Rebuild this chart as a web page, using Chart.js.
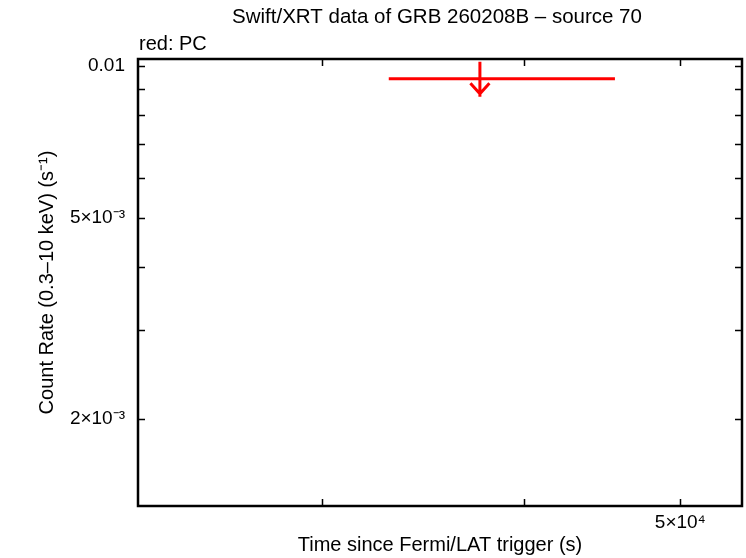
<!DOCTYPE html>
<html>
<head>
<meta charset="utf-8">
<title>Swift/XRT data of GRB 260208B - source 70</title>
<script src="https://cdn.jsdelivr.net/npm/chart.js@4.4.1/dist/chart.umd.min.js"></script>
<style>
  body { margin: 0; background: #fff; }
</style>
</head>
<body>
<canvas id="lc" width="746" height="558"></canvas>
<script>
// PC mode points (only one, an upper limit)
const timeMid = [37570];
const timeLo = [32990];
const timeHi = [45550];
const rate = [0.00943];
const upperLimit = [true];

// axis ranges and ticks
const xRange = [23070, 54600];
const yRange = [0.001345, 0.01032];
const xTicks = [3e4, 4e4, 5e4];
const xTickLabels = ['', '', '5×10⁴'];
const yTicks = [2e-3, 3e-3, 4e-3, 5e-3, 6e-3, 7e-3, 8e-3, 9e-3, 1e-2];
const yTickLabels = ['2×10⁻³', '', '', '5×10⁻³', '', '', '', '', '0.01'];

const FONT = '"Liberation Sans", Arial, Helvetica, sans-serif';

var points = timeMid.map(function (t, i) {
  return { x: t, y: rate[i], xLo: timeLo[i], xHi: timeHi[i], ul: upperLimit[i] };
});

// frame, inward ticks on all four sides, and the title text
var framePlugin = {
  id: 'frame',
  afterDraw: function (chart) {
    var ctx = chart.ctx, a = chart.chartArea;
    var xs = chart.scales.x, ys = chart.scales.y;
    ctx.save();
    ctx.strokeStyle = '#000';
    ctx.lineWidth = 1.5;
    var tl = 7;
    xTicks.forEach(function (v) {
      var px = Math.round(xs.getPixelForValue(v)) + 0.5;
      ctx.beginPath();
      ctx.moveTo(px, a.bottom); ctx.lineTo(px, a.bottom - tl);
      ctx.moveTo(px, a.top); ctx.lineTo(px, a.top + tl);
      ctx.stroke();
    });
    yTicks.forEach(function (v) {
      var py = Math.round(ys.getPixelForValue(v)) + 0.5;
      ctx.beginPath();
      ctx.moveTo(a.left, py); ctx.lineTo(a.left + tl, py);
      ctx.moveTo(a.right, py); ctx.lineTo(a.right - tl, py);
      ctx.stroke();
    });
    ctx.lineWidth = 2.5;
    ctx.strokeRect(a.left, a.top, a.right - a.left, a.bottom - a.top);

    ctx.fillStyle = '#000';
    ctx.font = '20.5px ' + FONT;
    ctx.textAlign = 'center';
    ctx.textBaseline = 'alphabetic';
    ctx.fillText('Swift/XRT data of GRB 260208B \u2013 source 70', 437, 23);
    ctx.font = '20px ' + FONT;
    ctx.textAlign = 'left';
    ctx.fillText('red: PC', 139, 50);
    ctx.restore();
  }
};

// error bars with upper-limit arrows
var errPlugin = {
  id: 'errbars',
  afterDatasetsDraw: function (chart) {
    var ctx = chart.ctx;
    var xs = chart.scales.x, ys = chart.scales.y;
    chart.data.datasets.forEach(function (ds) {
      ctx.save();
      ctx.strokeStyle = ds.borderColor;
      ctx.lineWidth = 3;
      ds.data.forEach(function (p) {
        var x = xs.getPixelForValue(p.x);
        var y = ys.getPixelForValue(p.y);
        var x0 = xs.getPixelForValue(p.xLo);
        var x1 = xs.getPixelForValue(p.xHi);
        ctx.beginPath();
        ctx.moveTo(x0, y); ctx.lineTo(x1, y);
        ctx.stroke();
        if (p.ul) {
          ctx.beginPath();
          ctx.moveTo(x, y - 17); ctx.lineTo(x, y + 18);
          ctx.moveTo(x - 9.5, y + 4.5); ctx.lineTo(x, y + 15);
          ctx.lineTo(x + 9.5, y + 4.5);
          ctx.stroke();
        }
      });
      ctx.restore();
    });
  }
};

document.addEventListener('DOMContentLoaded', function () {
  var ctx = document.getElementById('lc').getContext('2d');
  new Chart(ctx, {
    type: 'scatter',
    data: {
      datasets: [{
        label: 'PC',
        data: points,
        borderColor: '#ff0000',
        backgroundColor: '#ff0000',
        pointRadius: 0,
        pointHoverRadius: 0
      }]
    },
    options: {
      responsive: false,
      animation: false,
      events: [],
      layout: { padding: { top: 59, right: 4, left: 0, bottom: 0 } },
      plugins: {
        legend: { display: false },
        tooltip: { enabled: false }
      },
      scales: {
        x: {
          type: 'logarithmic',
          min: xRange[0],
          max: xRange[1],
          afterBuildTicks: function (s) {
            s.ticks = xTicks.map(function (v) { return { value: v }; });
          },
          afterFit: function (s) { s.height = 52; },
          grid: { display: false, drawTicks: false },
          border: { display: false },
          ticks: {
            autoSkip: false,
            maxRotation: 0,
            padding: 5,
            color: '#000',
            font: { family: FONT, size: 19 },
            callback: function (v) {
              var i = xTicks.indexOf(v);
              return i < 0 ? '' : xTickLabels[i];
            }
          },
          title: {
            display: true,
            text: 'Time since Fermi/LAT trigger (s)',
            color: '#000',
            font: { family: FONT, size: 20 },
            padding: { top: 0, bottom: 1 }
          }
        },
        y: {
          type: 'logarithmic',
          min: yRange[0],
          max: yRange[1],
          afterBuildTicks: function (s) {
            s.ticks = yTicks.map(function (v) { return { value: v }; });
          },
          afterFit: function (s) { s.width = 138; },
          grid: { display: false, drawTicks: false },
          border: { display: false },
          ticks: {
            autoSkip: false,
            padding: 13,
            color: '#000',
            font: { family: FONT, size: 19 },
            callback: function (v) {
              var i = yTicks.indexOf(v);
              return i < 0 ? '' : yTickLabels[i];
            }
          },
          title: {
            display: true,
            text: 'Count Rate (0.3\u201310 keV) (s\u207b\u00b9)',
            color: '#000',
            font: { family: FONT, size: 20 },
            padding: { top: 35, bottom: 0 }
          }
        }
      }
    },
    plugins: [framePlugin, errPlugin]
  });
});
</script>
</body>
</html>
